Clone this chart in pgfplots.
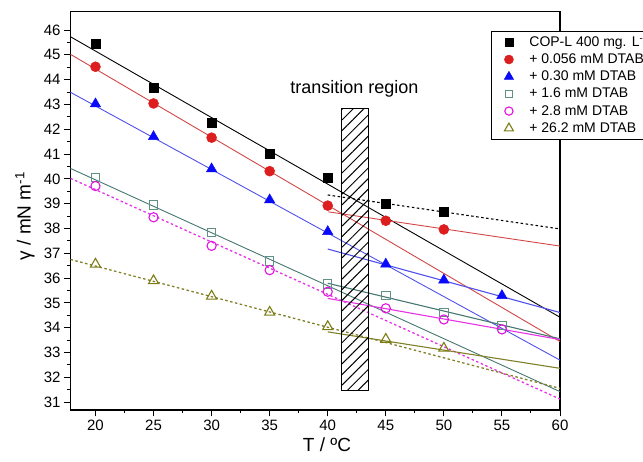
\documentclass[border=0pt]{standalone}
\usepackage{fontspec}
\setmainfont{Liberation Sans}
\usepackage{pgfplots}
\pgfplotsset{compat=1.18}
\usetikzlibrary{patterns.meta}
\definecolor{mred}{RGB}{220,30,30}
\definecolor{lred}{RGB}{210,70,70}
\definecolor{mblue}{RGB}{10,10,250}
\definecolor{lblue}{RGB}{80,80,235}
\definecolor{mteal}{RGB}{95,145,135}
\definecolor{lteal}{RGB}{70,120,112}
\definecolor{mmag}{RGB}{225,20,225}
\definecolor{lmag}{RGB}{230,50,230}
\definecolor{molive}{RGB}{125,125,20}
\definecolor{lolive}{RGB}{128,128,40}
\newcommand{\lf}{\fontsize{14}{17}\selectfont\hspace*{9pt}}
\begin{document}
\begin{tikzpicture}
\begin{axis}[
  name=ax, at={(0,0)}, anchor=south west,
  scale only axis, width=489.5pt, height=398.3pt,
  xmin=17.85, xmax=60, ymin=30.68, ymax=46.74,
  axis line style={line width=1.3pt},
  xtick={20,25,...,60}, minor x tick num=1,
  ytick={31,32,...,46}, minor y tick num=1,
  tick pos=left, tick align=outside,
  major tick length=6.5pt, minor tick length=3.5pt,
  every tick/.style={black, line width=1pt},
  tick label style={font=\fontsize{15}{18}\selectfont},
  /pgf/number format/assume math mode=true,
  xlabel={T / ºC},
  ylabel={γ / mN m\textsuperscript{-1}},
  label style={font=\fontsize{19}{22}\selectfont},
  xlabel style={at={(axis description cs:0.524,-0.088)}, anchor=center},
  ylabel style={at={(axis description cs:-0.093,0.487)}, anchor=center},
  clip=true,
  legend cell align=left,
  legend style={at={(0.859,0.952)}, anchor=north west, draw=black, line width=1pt, fill=white,
    inner xsep=8pt, inner ysep=4pt, row sep=3.2pt,
    nodes={inner sep=0pt, text height=11pt, text depth=3pt}},
  legend image code/.code={\draw[#1, scale=0.9] plot coordinates {(0.35cm,0cm)}; \path (0cm,0cm) (0.7cm,0cm);},
]
% fit lines
\addplot[forget plot, black, line width=0.9pt] coordinates {(17.85,45.73) (60,34.42)};
\addplot[forget plot, black, line width=1.1pt, dash pattern=on 2.5pt off 2.5pt] coordinates {(40,39.35) (60,37.98)};
\addplot[forget plot, lred, line width=0.9pt] coordinates {(17.85,45.02) (60,33.44)};
\addplot[forget plot, lred, line width=0.9pt] coordinates {(40.05,38.67) (60,37.29)};
\addplot[forget plot, lblue, line width=0.9pt] coordinates {(17.85,43.49) (60,32.69)};
\addplot[forget plot, lblue, line width=1.1pt] coordinates {(40,37.17) (60,34.61)};
\addplot[forget plot, lteal, line width=0.9pt] coordinates {(17.85,40.42) (60,31.42)};
\addplot[forget plot, lteal, line width=1.1pt] coordinates {(40,35.79) (60,33.55)};
\addplot[forget plot, lmag, line width=1.3pt, dash pattern=on 2.5pt off 2.5pt] coordinates {(17.85,40.02) (60,31.12)};
\addplot[forget plot, lmag, line width=1.1pt] coordinates {(40,35.18) (60,33.52)};
\addplot[forget plot, lolive, line width=1.3pt, dash pattern=on 2.5pt off 2.5pt] coordinates {(17.85,36.75) (60,31.55)};
\addplot[forget plot, lolive, line width=1.1pt] coordinates {(40,33.83) (60,32.36)};
% data
\addplot[only marks, mark=square*, mark size=4.5pt, mark options={fill=black, draw=black, line width=0.5pt}] coordinates {
(20,45.46) (25,43.69) (30,42.26) (35,41.03) (40,40.05) (45,39.01) (50,38.67)};
\addlegendentry{\lf COP-L 400 mg. L\textsuperscript{-1}}
\addplot[only marks, mark=*, mark size=5pt, mark options={fill=mred, draw=mred, line width=0.5pt}] coordinates {
(20,44.52) (25,43.04) (30,41.66) (35,40.31) (40,38.92) (45,38.31) (50,37.96)};
\addlegendentry{\lf + 0.056 mM DTAB}
\addplot[only marks, mark=triangle*, mark size=6pt, mark options={fill=mblue, draw=mblue, line width=0.5pt}] coordinates {
(20,43.02) (25,41.70) (30,40.40) (35,39.15) (40,37.87) (45,36.56) (50,35.92) (55,35.29)};
\addlegendentry{\lf + 0.30 mM DTAB}
\addplot[only marks, mark=square, mark size=4.2pt, mark options={draw=mteal, line width=1pt}] coordinates {
(20,40.06) (25,38.94) (30,37.84) (35,36.69) (40,35.76) (45,35.29) (50,34.60) (55,34.08)};
\addlegendentry{\lf + 1.6 mM DTAB}
\addplot[only marks, mark=o, mark size=4.6pt, mark options={draw=mmag, line width=1.1pt}] coordinates {
(20,39.71) (25,38.45) (30,37.30) (35,36.32) (40,35.45) (45,34.78) (50,34.33) (55,33.93)};
\addlegendentry{\lf + 2.8 mM DTAB}
\addplot[only marks, mark=triangle, mark size=5.8pt, mark options={draw=molive, line width=1.1pt}] coordinates {
(20,36.56) (25,35.89) (30,35.27) (35,34.62) (40,34.04) (45,33.53) (50,33.17)};
\addlegendentry{\lf + 26.2 mM DTAB}
% transition region
\draw[line width=1pt, pattern={Lines[angle=45,distance=7.5pt,line width=1pt]}] (axis cs:41.15,31.46) rectangle (axis cs:43.55,42.85);
\node[anchor=base, font=\fontsize{18}{21}\selectfont, inner sep=0pt] at (axis cs:42.3,43.45) {transition region};
\end{axis}
\pgfresetboundingbox
\useasboundingbox (-70.5pt,-52pt) rectangle (572.5pt,410pt);
\end{tikzpicture}
\end{document}
